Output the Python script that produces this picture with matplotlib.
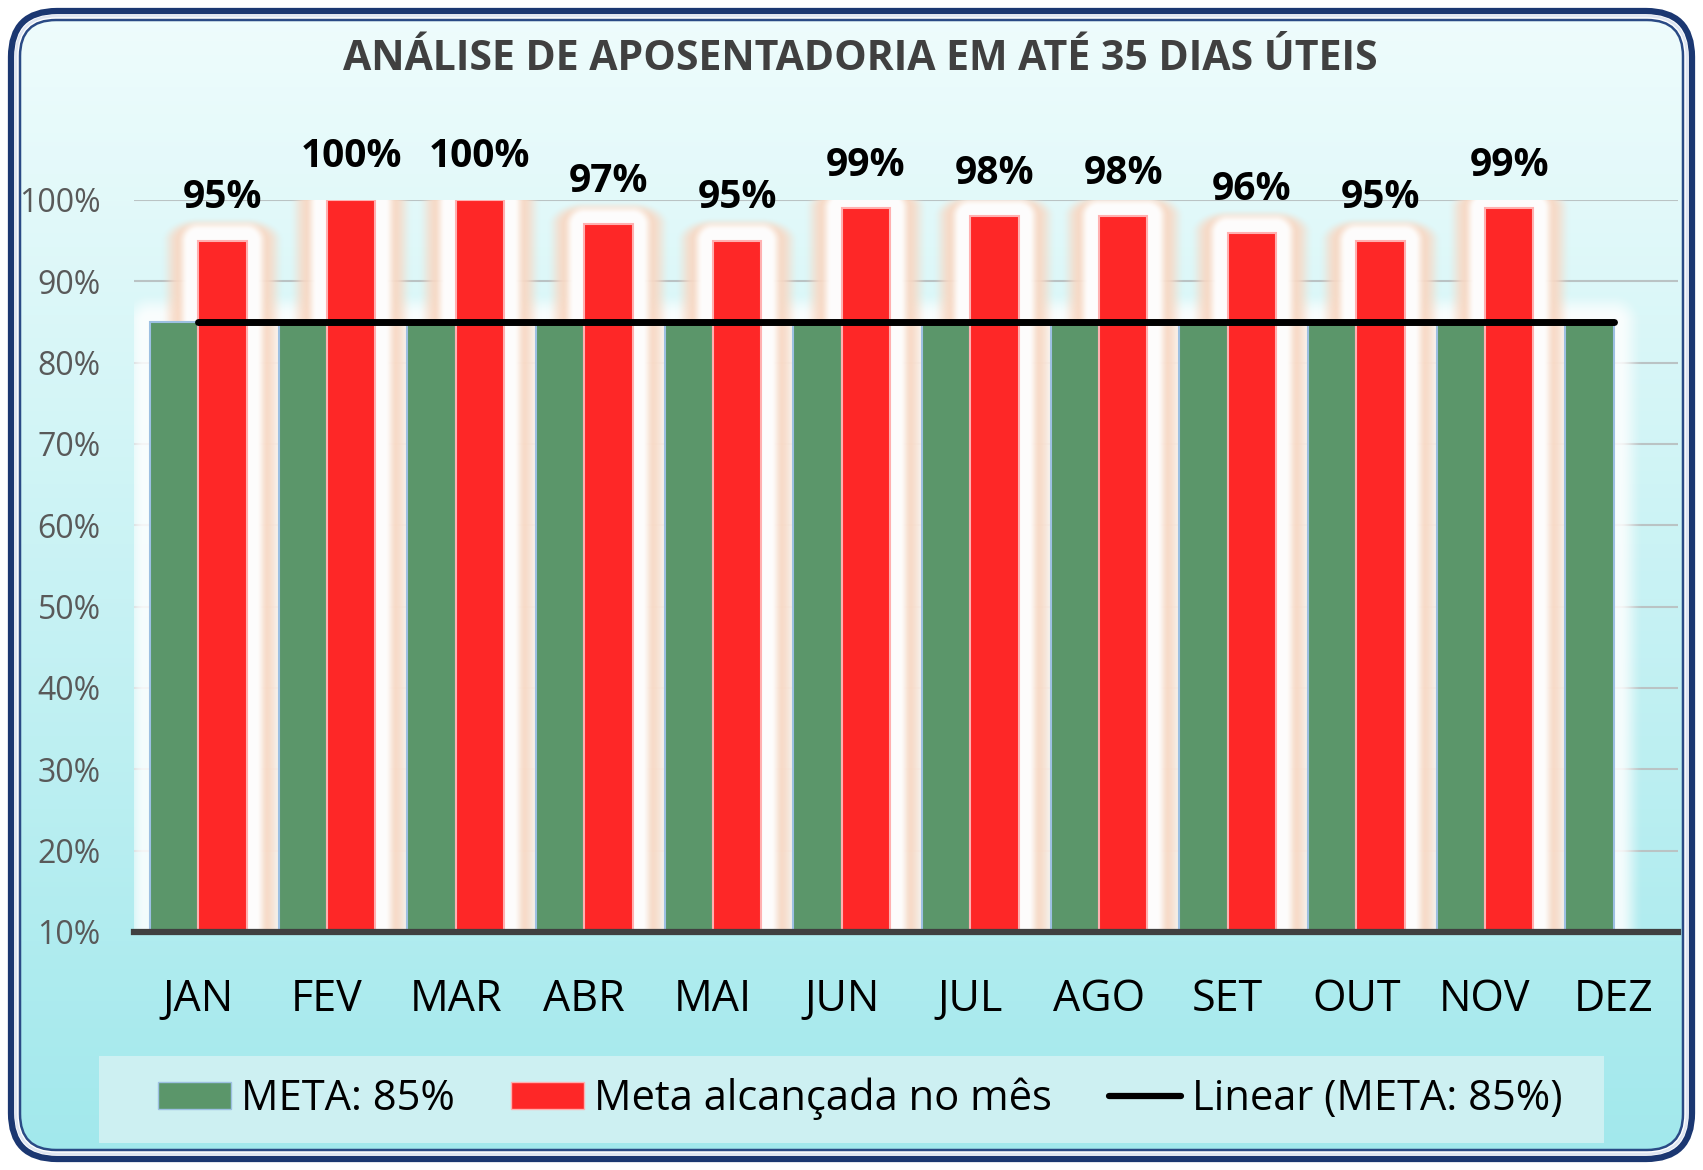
import numpy as np
import matplotlib
matplotlib.use("Agg")
import matplotlib.pyplot as plt
from matplotlib.patches import FancyBboxPatch, Rectangle, Patch
from matplotlib.lines import Line2D

# dados do gráfico
meses = ["JAN", "FEV", "MAR", "ABR", "MAI", "JUN", "JUL", "AGO", "SET", "OUT", "NOV", "DEZ"]
meta = [0.85, 0.85, 0.85, 0.85, 0.85, 0.85, 0.85, 0.85, 0.85, 0.85, 0.85, 0.85]
alcancada = [0.95, 1.00, 1.00, 0.97, 0.95, 0.99, 0.98, 0.98, 0.96, 0.95, 0.99, np.nan]
y_ticks = [0.1, 0.2, 0.3, 0.4, 0.5, 0.6, 0.7, 0.8, 0.9, 1.0]
titulo = "ANÁLISE DE APOSENTADORIA EM ATÉ 35 DIAS ÚTEIS"
rotulos_legenda = ["META: 85%", "Meta alcançada no mês", "Linear (META: 85%)"]

VERDE = "#5b966a"
VERMELHO = "#fe2727"
PESSEGO = np.array([0.975, 0.85, 0.77])
BRANCO = np.array([1.0, 1.0, 1.0])

W, H = 1703, 1170
plt.rcParams['font.family'] = ['Open Sans', 'DejaVu Sans']
fig = plt.figure(figsize=(W / 100, H / 100), dpi=100, facecolor="white")

# fundo com gradiente e moldura arredondada
bg = fig.add_axes([0, 0, 1, 1], zorder=0)
bg.set_xlim(0, W)
bg.set_ylim(0, H)
bg.axis("off")
t = np.linspace(0, 1, 256).reshape(-1, 1, 1)
cor_topo = np.array([0.94, 0.99, 0.99])
cor_base = np.array([0.63, 0.91, 0.925])
grad = cor_topo + (cor_base - cor_topo) * t
im = bg.imshow(grad, extent=[0, W, 0, H], aspect="auto", origin="upper", zorder=0)
clip = FancyBboxPatch((20, 20), W - 40, H - 40, boxstyle="round,pad=0,rounding_size=36",
                      facecolor="none", edgecolor="none")
bg.add_patch(clip)
im.set_clip_path(clip)

bg.add_patch(FancyBboxPatch((11, 11), W - 22, H - 22, boxstyle="round,pad=0,rounding_size=46",
                            facecolor="none", edgecolor="#1b3771", lw=4.5, zorder=2))
bg.add_patch(FancyBboxPatch((16, 16), W - 32, H - 32, boxstyle="round,pad=0,rounding_size=41",
                            facecolor="none", edgecolor="#dfe6f2", lw=1.8, zorder=2))
bg.add_patch(FancyBboxPatch((20, 20), W - 40, H - 40, boxstyle="round,pad=0,rounding_size=36",
                            facecolor="none", edgecolor="#2a4a85", lw=1.8, zorder=2))

# caixa da legenda
bg.add_patch(Rectangle((99, 27), 1505, 87, facecolor="#cdf0f2", edgecolor="none", zorder=1))

# eixo principal
x0_px, x1_px, y_top_px, y_bot_px = 134, 1678, 200, 932
ax = fig.add_axes([x0_px / W, (H - y_bot_px) / H, (x1_px - x0_px) / W, (y_bot_px - y_top_px) / H],
                  zorder=2)
ax.set_facecolor("none")
x = np.arange(len(meses))
bw = 0.375
xlim = (-0.5, len(meses) - 0.5)
ylim = (0.1, 1.0)
ax.set_xlim(*xlim)
ax.set_ylim(*ylim)
ax.set_yticks(y_ticks)
ax.set_yticklabels([f"{int(round(v * 100))}%" for v in y_ticks])
ax.set_xticks(x)
ax.set_xticklabels(meses)
ax.yaxis.grid(True, color="#bac3c4", lw=1.5)
ax.set_axisbelow(True)
for s in ["top", "left", "right"]:
    ax.spines[s].set_visible(False)
ax.spines["bottom"].set_color("#404040")
ax.spines["bottom"].set_linewidth(4.5)
ax.spines["bottom"].set_zorder(5)
ax.tick_params(axis="y", length=0, pad=24, labelsize=23, labelcolor="#595959")
ax.tick_params(axis="x", length=0, pad=33, labelsize=31, labelcolor="black")

# brilho das barras, calculado em pixels do eixo
aw, ah = x1_px - x0_px, y_bot_px - y_top_px
X, Y = np.meshgrid(np.arange(aw) + 0.5, np.arange(ah) + 0.5)


def distancia(esquerdas, alturas, fy=1.0):
    d = np.full(X.shape, np.inf)
    for l, v in zip(esquerdas, alturas):
        if np.isnan(v):
            continue
        px0 = (l - xlim[0]) / (xlim[1] - xlim[0]) * aw
        px1 = (l + bw - xlim[0]) / (xlim[1] - xlim[0]) * aw
        py0 = (ylim[1] - v) / (ylim[1] - ylim[0]) * ah
        dx = np.maximum(np.maximum(px0 - X, X - px1), 0)
        dy = np.maximum(py0 - Y, 0) * fy
        d = np.minimum(d, np.hypot(dx, dy))
    return d


def queda(d, a, b):
    s = np.clip((b - d) / (b - a), 0, 1)
    return s * s * (3 - 2 * s)


d_verde = distancia(x - bw, meta)
d_verm = distancia(x, np.array(alcancada))
d_verm_p = distancia(x, np.array(alcancada), fy=1.6)

a_g = 0.85 * queda(d_verde, 6, 30)
a_p = 0.92 * queda(d_verm_p, 20, 38)
a_w = 0.97 * queda(d_verm, 10, 21)

A = a_g
C = np.broadcast_to(BRANCO, X.shape + (3,)).copy()
A1 = a_p + A * (1 - a_p)
C1 = (PESSEGO * a_p[..., None] + C * (A * (1 - a_p))[..., None]) / np.maximum(A1, 1e-6)[..., None]
A2 = a_w + A1 * (1 - a_w)
C2 = (BRANCO * a_w[..., None] + C1 * (A1 * (1 - a_w))[..., None]) / np.maximum(A2, 1e-6)[..., None]
rgba = np.dstack([np.clip(C2, 0, 1), A2])
ax.imshow(rgba, extent=[xlim[0], xlim[1], ylim[0], ylim[1]], origin="upper", aspect="auto",
          interpolation="nearest", zorder=1.5)
ax.set_xlim(*xlim)
ax.set_ylim(*ylim)

ax.bar(x - bw / 2, meta, width=bw, color=VERDE, edgecolor="#9dc0e2", lw=1.5, zorder=3)
ax.bar(x + bw / 2, alcancada, width=bw, color=VERMELHO, edgecolor="#ffb0b0", lw=1.5, zorder=3)

# linha de tendência linear da meta
coef = np.polyfit(x, meta, 1)
ax.plot(x, np.polyval(coef, x), color="black", lw=5, solid_capstyle="round", zorder=4)

for i, v in enumerate(alcancada):
    if not np.isnan(v):
        ax.annotate(f"{int(round(v * 100))}%", (i + bw / 2, v), xytext=(0, 31),
                    textcoords="offset points", ha="center", va="center",
                    fontsize=28, fontweight="bold", color="black", zorder=6)

fig.text(0.505, 0.949, titulo, ha="center", va="center", fontsize=29.5,
         fontweight="bold", color="#404040")

handles = [Patch(facecolor=VERDE, edgecolor="#9dc0e2"),
           Patch(facecolor=VERMELHO, edgecolor="#ffb0b0"),
           Line2D([], [], color="black", lw=4.5, solid_capstyle="round")]
fig.legend(handles, rotulos_legenda, loc="center", bbox_to_anchor=(0.505, 0.0607), ncol=3,
           frameon=False, fontsize=30, handlelength=1.75, handleheight=0.6,
           handletextpad=0.25, columnspacing=1.35)

fig.savefig("out.png", dpi=100)
